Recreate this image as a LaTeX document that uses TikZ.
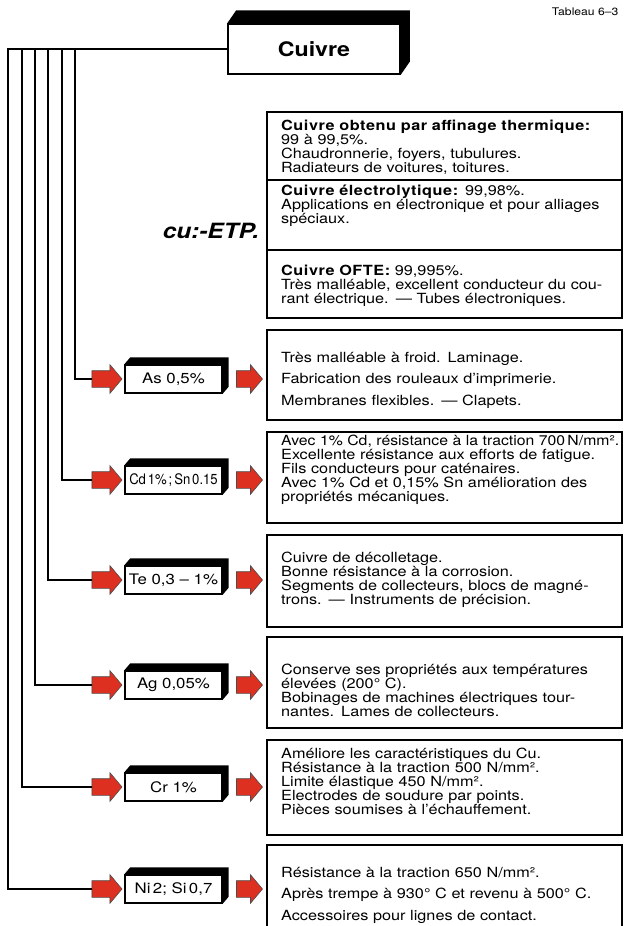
\documentclass[tikz,border=0pt]{standalone}
\usepackage{graphicx}
\usepackage{fontspec}
\setmainfont{TeX Gyre Heros}[FakeStretch=1.16]
\usetikzlibrary{calc, positioning, shapes.arrows}
\definecolor{cured}{RGB}{222,48,32}
\newcommand{\fullline}[1]{\makebox[338pt][s]{#1}}
\newcommand{\squeezeline}[1]{\resizebox{338pt}{\height}{#1}}
\newcommand{\boldhead}[1]{{\bfseries\addfontfeature{LetterSpace=4}#1}}

\begin{document}
\begin{tikzpicture}[x=1pt, y=-1pt, font=\fontsize{14}{14}\selectfont,
			bus/.style={line width=2.2pt},
			alloy/.style={rectangle, draw, line width=1.4pt, fill=white, minimum width=97pt, minimum height=28pt, inner sep=0pt, font=\fontsize{14.5}{14.5}\selectfont},
			redarrow/.style={single arrow, draw=black!70, line width=0.6pt, fill=cured, single arrow head extend=6pt, single arrow tip angle=100, inner xsep=0pt, inner ysep=8pt},
			desc/.style={rectangle, draw, line width=1.5pt, minimum width=355pt, inner sep=0pt},
			txt/.style={anchor=west, text width=345pt, align=left, inner sep=0pt}]
			\useasboundingbox (0,0) rectangle (624,926);
			
			% title
			\node[anchor=east, font=\fontsize{10.5}{10.5}\selectfont] (tab) at (622,12) {Tableau 6--3};
			\node[rectangle, draw, line width=1.5pt, minimum width=172pt, minimum height=50pt, font=\fontsize{20}{20}\selectfont\bfseries] (cuivre) at (314,49) {Cuivre};
			\fill (cuivre.north west) -- ++(9,-13) -| ([shift={(9,-13)}]cuivre.south east) -- (cuivre.south east) -- (cuivre.north east) -- cycle;
			
			% alloys: bus x / row y / label
			\foreach \x/\y/\lab [count=\p] in {75/379/{As 0,5\%}, 62/480/{\scalebox{0.78}[1]{Cd\,1\%\,;\,Sn\,0.15}}, 48/580/{Te 0,3 -- 1\%}, 35/685/{Ag 0,05\%}, 22/787/{Cr 1\%}, 8/889/{Ni\,2; Si\,0,7}} {
				\coordinate (b\p) at (\x,49);
				\node[redarrow, minimum height=30pt] (la\p) at (103.5,\y) {};
				\node[alloy] (a\p) at (173.5,\y) {\lab};
				\fill (a\p.north west) -- ++(6,-7) -| ([shift={(6,-7)}]a\p.south east) -- (a\p.south east) -- (a\p.north east) -- cycle;
				\node[redarrow, minimum height=26pt] (ra\p) at (246,\y) {};
			};
			\foreach \p in {1,...,5} {
				\draw[bus] (b\p) |- (la\p.tail);
			};
			\draw[bus] (cuivre.west) -- (b6) |- (la6.tail);
			
			% pure copper
			\node[desc, minimum height=68pt] (d1) at (444.5,146) {};
			\node[desc, minimum height=70pt] (d2) at (444.5,215) {};
			\node[desc, minimum height=68pt] (d3) at (444.5,284) {};
			\node[txt] (t1) at (281,147) {\boldhead{Cuivre obtenu par affinage thermique:}\\
				99 à 99,5\%.\\
				Chaudronnerie, foyers, tubulures.\\
				Radiateurs de voitures, toitures.};
			\node[txt] (t2) at (281,206) {\boldhead{Cuivre électrolytique:} 99,98\%.\\
				\fullline{Applications en électronique et pour alliages}\\
				spéciaux.};
			\node[txt] (t3) at (281,286) {\boldhead{Cuivre OFTE:} 99,995\%.\\
				\fullline{Très malléable, excellent conducteur du cou-}\\
				rant électrique. --- Tubes électroniques.};
			\node[font=\fontsize{21}{21}\selectfont\bfseries\itshape] (etp) at (211,231) {cu:-ETP.};
			
			% alloyed copper
			\node[desc, minimum height=90pt] (d4) at (444.5,375) {};
			\node[txt, font=\fontsize{14}{21.5}\selectfont] (t4) at (281,380) {Très malléable à froid. Laminage.\\
				Fabrication des rouleaux d'imprimerie.\\
				Membranes flexibles. --- Clapets.};
			\node[desc, minimum height=91pt] (d5) at (444.5,477.5) {};
			\node[txt] (t5) at (281,470) {\squeezeline{Avec 1\% Cd, résistance à la traction 700\,N/mm².}\\
				\fullline{Excellente résistance aux efforts de fatigue.}\\
				Fils conducteurs pour caténaires.\\
				\fullline{Avec 1\% Cd et 0,15\% Sn amélioration des}\\
				propriétés mécaniques.};
			\node[desc, minimum height=92pt] (d6) at (444.5,581) {};
			\node[txt] (t6) at (281,580) {Cuivre de décolletage.\\
				Bonne résistance à la corrosion.\\
				\fullline{Segments de collecteurs, blocs de magné-}\\
				trons. --- Instruments de précision.};
			\node[desc, minimum height=91pt] (d7) at (444.5,682.5) {};
			\node[txt] (t7) at (281,690) {\fullline{Conserve ses propriétés aux températures}\\
				élevées (200° C).\\
				\fullline{Bobinages de machines électriques tour-}\\
				nantes. Lames de collecteurs.};
			\node[desc, minimum height=95pt] (d8) at (444.5,787.5) {};
			\node[txt] (t8) at (281,781) {Améliore les caractéristiques du Cu.\\
				Résistance à la traction 500 N/mm².\\
				Limite élastique 450 N/mm².\\
				Electrodes de soudure par points.\\
				Pièces soumises à l'échauffement.};
			\node[desc, minimum height=90pt] (d9) at (444.5,890) {};
			\node[txt, font=\fontsize{14}{21.5}\selectfont] (t9) at (281,895) {Résistance à la traction 650 N/mm².\\
				\fullline{Après trempe à 930° C et revenu à 500° C.}\\
				Accessoires pour lignes de contact.};
		\end{tikzpicture}
\end{document}
